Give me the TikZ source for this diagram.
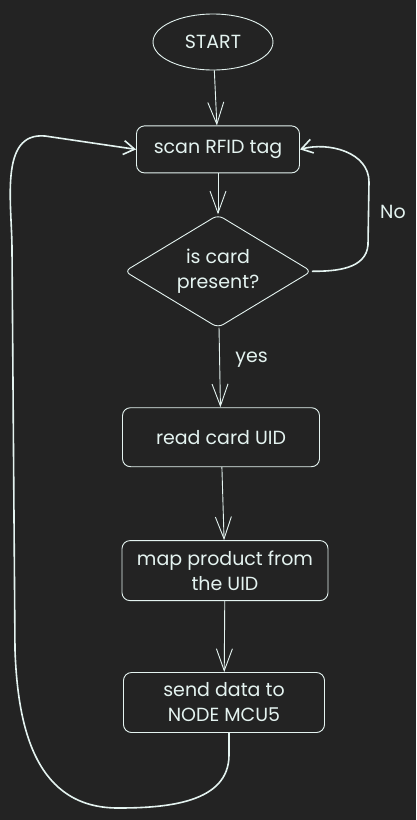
\documentclass[tikz,border=0pt]{standalone}
\usepackage{fontspec}
\setmainfont{Poppins}
\usetikzlibrary{positioning, arrows.meta, shapes.geometric}
\definecolor{bg}{HTML}{232323}
\definecolor{ink}{HTML}{E4F3F0}
\tikzset{%
  eda/.style={line width=0.9pt, -{Straight Barb[length=22pt, width=16pt]}},
  edl/.style={line width=1.6pt, -{Straight Barb[length=11pt, width=14pt]}},
  bx/.style={draw, line width=0.9pt, rounded corners=8pt, align=center, inner sep=0pt},
  st/.style={draw, line width=0.9pt, ellipse, minimum width=120pt, minimum height=56pt},
  dm/.style={bx, diamond, aspect=1.7, rounded corners=6pt, minimum width=187pt, minimum height=113pt}
}
\begin{document}
\begin{tikzpicture}[x=1pt, y=-1pt, color=ink, font=\fontsize{19}{25}\selectfont]
        \useasboundingbox[fill=bg] (0,0) rectangle (416,820);
        \node[st] (start) at (213,42)                                                      {START};
        \node[bx] (scan)  [below=55pt of start, xshift=5pt, minimum width=163pt, minimum height=47pt] {scan RFID tag};
        \node[dm] (card)  [below=41pt of scan]                                              {is card\\present?};
        \node[bx] (read)  [below=79pt of card, xshift=3pt, minimum width=197pt, minimum height=59pt]  {read card UID};
        \node[bx] (map)   [below=73pt of read, xshift=4pt, minimum width=206pt, minimum height=60pt]  {map product from\\the UID};
        \node[bx] (send)  [below=71pt of map, xshift=-1pt, minimum width=201pt, minimum height=60pt]  {send data to\\NODE MCU5};
        % bends of the two loops
        \coordinate (n1) at (368,245);
        \coordinate (n2) at (369,182);
        \coordinate (b1) at (229,755);
        \coordinate (b2) at (118,808);
        \coordinate (b3) at (15,650);
        \coordinate (b4) at (12,250);
        \coordinate (b5) at (45,136);
        \path[eda]
        (start) edge (scan)
        (scan) edge (card)
        (card) edge node[right=12pt, pos=0.4] {yes} (read)
        (read) edge (map)
        (map) edge (send);
        \draw[edl] (card.east) to[out=0, in=-95] (n1) -- (n2) to[out=90, in=15] (scan.east);
        \node (no) at (393,212) {No};
        \draw[edl] ([xshift=5pt]send.south) -- (b1) to[out=-90, in=0] (b2) to[out=180, in=-88, looseness=1.1] (b3) -- (b4) to[out=90, in=175] (b5) -- (scan.west);
      \end{tikzpicture}
\end{document}
